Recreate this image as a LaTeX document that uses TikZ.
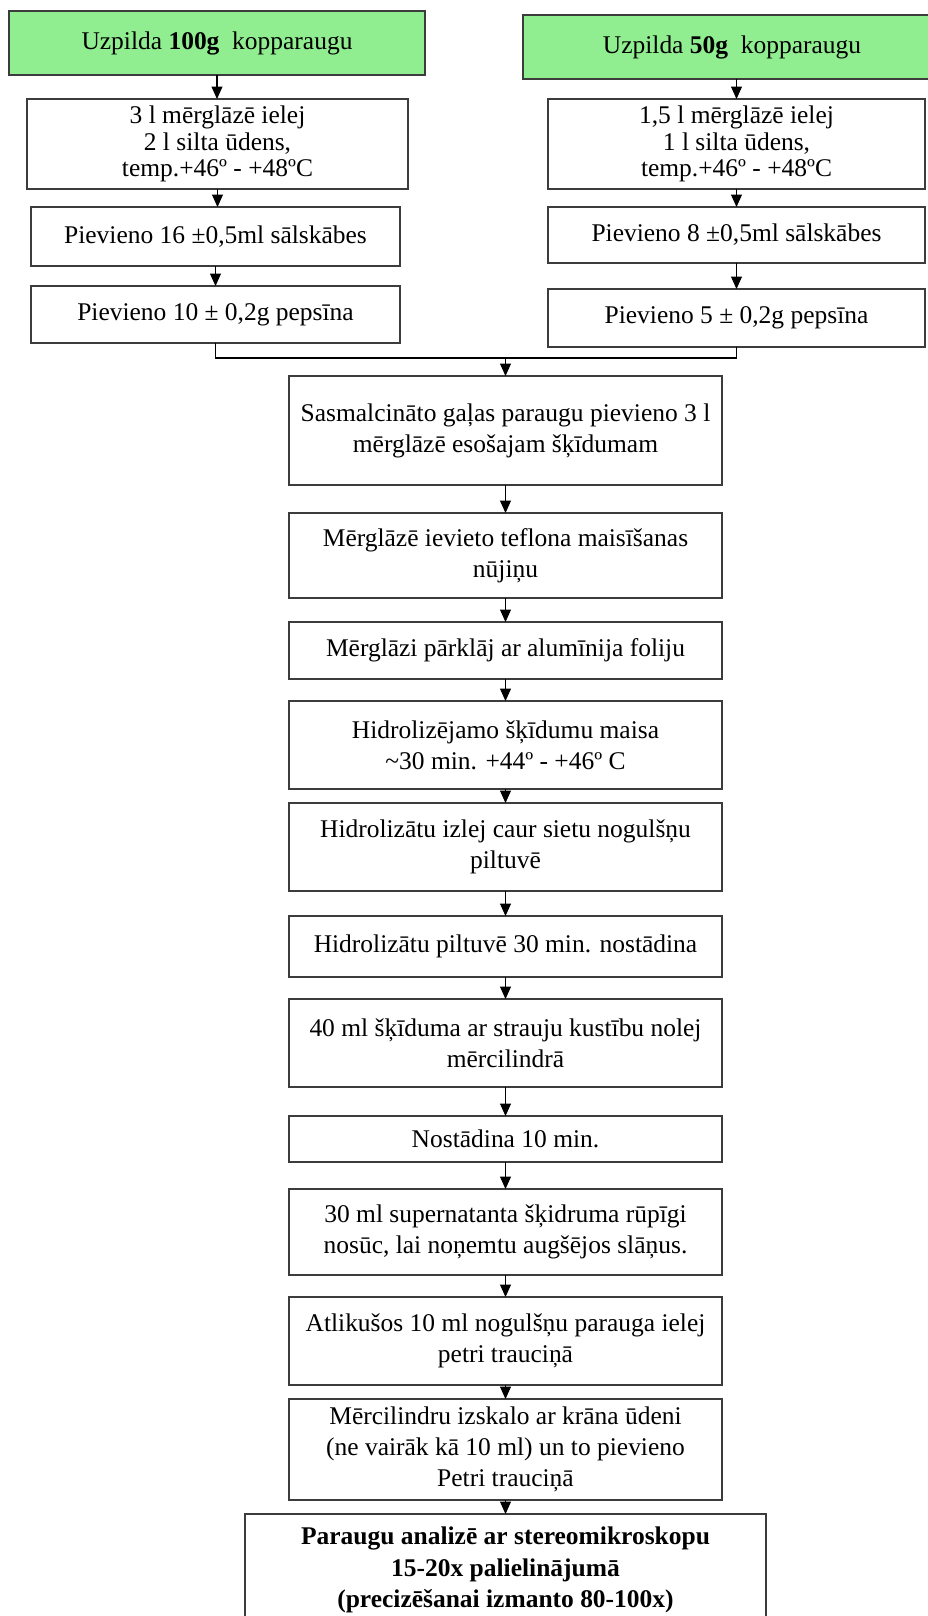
\documentclass[tikz,border=0pt]{standalone}
\usepackage{fontspec}
\setmainfont{Liberation Serif}
\usetikzlibrary{arrows.meta}
\definecolor{boxgreen}{RGB}{144,238,144}
\definecolor{boxline}{RGB}{60,60,60}
\tikzset{
	stepbox/.style={draw=boxline, line width=0.7pt, fill=white, inner sep=0pt, outer sep=0pt, align=center, font=\fontsize{14.5}{17.6}\selectfont},
	startbox/.style={stepbox, fill=boxgreen},
	tightbox/.style={stepbox, font=\fontsize{14.5}{15}\selectfont},
	arr/.style={-{Triangle[length=0.25cm,width=0.22cm]}, line width=0.6pt, black}
}
\begin{document}
\begin{tikzpicture}[x=0.02cm, y=-0.02cm]
			%%%%% START %%%%%
			\useasboundingbox (0, 0) rectangle (928, 1616);
			
			% left branch
			\node[startbox, minimum width=8.32cm, minimum height=1.28cm] (g1) at (217, 43) {Uzpilda \textbf{100g}~ kopparaugu};
			\node[tightbox, minimum width=7.62cm, minimum height=1.8cm] (l2) at (217.5, 144) {3 l mērglāzē ielej\\2 l silta ūdens,\\temp.+46º - +48ºC};
			\node[stepbox, minimum width=7.38cm, minimum height=1.18cm] (l3) at (215.5, 236.5) {Pievieno 16 ±0,5ml sālskābes};
			\node[stepbox, minimum width=7.38cm, minimum height=1.14cm] (l4) at (215.5, 314.5) {Pievieno 10 ± 0,2g pepsīna};
			
			% right branch
			\node[startbox, minimum width=8.36cm, minimum height=1.28cm] (g2) at (732, 47) {Uzpilda \textbf{50g}~ kopparaugu};
			\node[tightbox, minimum width=7.54cm, minimum height=1.8cm] (r2) at (736.5, 144) {1,5 l mērglāzē ielej\\1 l silta ūdens,\\temp.+46º - +48ºC};
			\node[stepbox, minimum width=7.54cm, minimum height=1.12cm] (r3) at (736.5, 235) {Pievieno 8 ±0,5ml sālskābes};
			\node[stepbox, minimum width=7.54cm, minimum height=1.16cm] (r4) at (736.5, 318) {Pievieno 5 ± 0,2g pepsīna};
			
			% main column
			\node[stepbox, minimum width=8.66cm, minimum height=2.18cm] (c5) at (505.5, 430.5) {Sasmalcināto gaļas paraugu pievieno 3 l\\mērglāzē esošajam šķīdumam};
			\node[stepbox, minimum width=8.66cm, minimum height=1.7cm] (c6) at (505.5, 555.5) {Mērglāzē ievieto teflona maisīšanas\\nūjiņu};
			\node[stepbox, minimum width=8.66cm, minimum height=1.14cm] (c7) at (505.5, 650.5) {Mērglāzi pārklāj ar alumīnija foliju};
			\node[stepbox, minimum width=8.66cm, minimum height=1.76cm] (c8) at (505.5, 745) {Hidrolizējamo šķīdumu maisa\\\textasciitilde30 min. +44º - +46º C};
			\node[stepbox, minimum width=8.66cm, minimum height=1.76cm] (c9) at (505.5, 847) {Hidrolizātu izlej caur sietu nogulšņu\\piltuvē};
			\node[stepbox, minimum width=8.66cm, minimum height=1.22cm] (c10) at (505.5, 946.5) {Hidrolizātu piltuvē 30 min. nostādina};
			\node[stepbox, minimum width=8.66cm, minimum height=1.76cm] (c11) at (505.5, 1043) {40 ml šķīduma ar strauju kustību nolej\\mērcilindrā};
			\node[stepbox, minimum width=8.66cm, minimum height=0.92cm] (c12) at (505.5, 1139) {Nostādina 10 min.};
			\node[stepbox, minimum width=8.66cm, minimum height=1.72cm] (c13) at (505.5, 1232) {30 ml supernatanta šķidruma rūpīgi\\nosūc, lai noņemtu augšējos slāņus.};
			\node[stepbox, minimum width=8.66cm, minimum height=1.76cm] (c14) at (505.5, 1341) {Atlikušos 10 ml nogulšņu parauga ielej\\petri trauciņā};
			\node[stepbox, minimum width=8.66cm, minimum height=2.02cm] (c15) at (505.5, 1449.5) {Mērcilindru izskalo ar krāna ūdeni\\(ne vairāk kā 10 ml) un to pievieno\\Petri trauciņā};
			\node[stepbox, minimum width=10.42cm, minimum height=2.24cm, font=\bfseries\fontsize{14.5}{17.8}\selectfont] (c16) at (505.5, 1570) {Paraugu analizē ar stereomikroskopu\\15-20x palielinājumā\\(precizēšanai izmanto 80-100x)};
			
			% arrows in the branches
			\draw[arr] (g1.south) -- (g1.south |- l2.north);
			\draw[arr] (l2.south) -- (l2.south |- l3.north);
			\draw[arr] (l3.south) -- (l3.south |- l4.north);
			\draw[arr] (r2.north |- g2.south) -- (r2.north);
			\draw[arr] (r2.south) -- (r2.south |- r3.north);
			\draw[arr] (r3.south) -- (r3.south |- r4.north);
			
			% join of both branches
			\coordinate (join) at (505.5, 358);
			\draw[line width=0.6pt] (l4.south) |- (join) -| (r4.south);
			\draw[arr] (join) -- (c5.north);
			
			% main column arrows
			\draw[arr] (c5.south) -- (c6.north);
			\draw[arr] (c6.south) -- (c7.north);
			\draw[arr] (c7.south) -- (c8.north);
			\draw[arr] (c8.south) -- (c9.north);
			\draw[arr] (c9.south) -- (c10.north);
			\draw[arr] (c10.south) -- (c11.north);
			\draw[arr] (c11.south) -- (c12.north);
			\draw[arr] (c12.south) -- (c13.north);
			\draw[arr] (c13.south) -- (c14.north);
			\draw[arr] (c14.south) -- (c15.north);
			\draw[arr] (c15.south) -- (c16.north);
			
			%%%%% END %%%%%
\end{tikzpicture}
\end{document}
